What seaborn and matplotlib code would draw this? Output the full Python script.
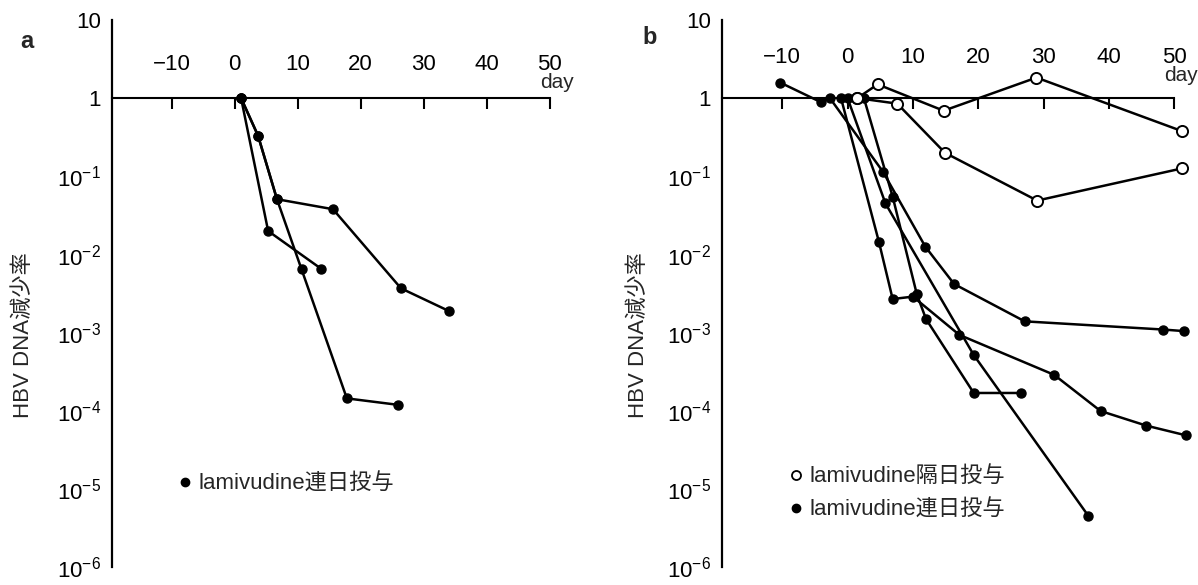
import matplotlib
matplotlib.use("Agg")
import matplotlib.pyplot as plt
from matplotlib.lines import Line2D
from matplotlib.ticker import NullLocator
import pandas as pd
import seaborn as sns

sns.set_theme(style="white")
plt.rcParams["font.family"] = ["Liberation Sans", "Noto Sans CJK JP", "DejaVu Sans"]
plt.rcParams["mathtext.default"] = "regular"

# --- values (day, HBV DNA ratio) ---
# panel a: daily lamivudine
a1_days = [1.0, 3.7, 6.7, 15.6, 26.4, 34.0]
a1_vals = [1.0, 0.33, 0.051, 0.038, 0.0037, 0.0019]
a2_days = [1.0, 5.3, 13.7]
a2_vals = [1.0, 0.020, 0.0066]
a3_days = [1.0, 3.7, 6.7, 10.6, 17.8, 25.9]
a3_vals = [1.0, 0.33, 0.051, 0.0065, 1.45e-4, 1.2e-4]

# panel b: every other day (open)
bo1_days = [1.5, 4.6, 14.7, 28.9, 51.1]
bo1_vals = [1.0, 1.5, 0.69, 1.83, 0.38]
bo2_days = [1.5, 7.6, 14.9, 29.0, 51.1]
bo2_vals = [1.0, 0.85, 0.20, 0.049, 0.126]

# panel b: daily (filled)
bf1_days = [-10.3, -4.1, -2.7, 5.4, 11.9, 16.3, 27.1, 48.3, 51.5]
bf1_vals = [1.58, 0.89, 1.0, 0.115, 0.0126, 0.0042, 0.0014, 0.0011, 0.00105]
bf2_days = [-1.0, 4.8, 6.9, 10.0, 17.1, 31.6, 38.7, 45.7, 51.7]
bf2_vals = [1.0, 0.0145, 0.0027, 0.0029, 9.4e-4, 2.9e-4, 1.0e-4, 6.5e-5, 4.9e-5]
bf3_days = [0.0, 5.8, 19.3, 36.8]
bf3_vals = [1.0, 0.045, 5.2e-4, 4.6e-6]
bf4_days = [2.5, 6.9, 10.6, 12.0, 19.3, 26.5]
bf4_vals = [1.0, 0.055, 0.0031, 0.0015, 1.7e-4, 1.7e-4]

x_ticks = [-10, 0, 10, 20, 30, 40, 50]
x_labels = ["\u221210", "0", "10", "20", "30", "40", "50"]
y_ticks = [1e-6, 1e-5, 1e-4, 1e-3, 1e-2, 1e-1, 1, 10]
y_labels = ["$10^{-6}$", "$10^{-5}$", "$10^{-4}$", "$10^{-3}$", "$10^{-2}$",
            "$10^{-1}$", "1", "10"]

daily_label = "lamivudine連日投与"
alt_label = "lamivudine隔日投与"
ylabel = "HBV DNA減少率"


def to_frame(series):
    rows = []
    for pid, (days, vals) in enumerate(series):
        for d, v in zip(days, vals):
            rows.append({"patient": pid, "day": d, "ratio": v})
    return pd.DataFrame(rows)


def draw(ax, df, open_marker=False):
    kw = dict(color="black", lw=1.8, marker="o", markeredgecolor="black",
              clip_on=False)
    if open_marker:
        kw.update(markersize=8, markerfacecolor="white", markeredgewidth=1.4,
                  zorder=4)
    else:
        kw.update(markersize=6.5, markerfacecolor="black", markeredgewidth=1,
                  zorder=3)
    sns.lineplot(data=df, x="day", y="ratio", units="patient", estimator=None,
                 sort=False, legend=False, ax=ax, **kw)


def style_axes(ax, xmin, label_pad, day_offset, ylabel_x):
    ax.set_yscale("log")
    ax.set_xlim(xmin, 53)
    ax.set_ylim(1e-6, 10)
    ax.spines["right"].set_visible(False)
    ax.spines["bottom"].set_visible(False)
    ax.spines["left"].set_linewidth(1.6)
    ax.spines["left"].set_color("black")
    ax.spines["top"].set_position(("data", 1.0))
    ax.spines["top"].set_bounds(xmin, 50)
    ax.spines["top"].set_linewidth(1.5)
    ax.spines["top"].set_color("black")
    ax.xaxis.set_ticks_position("top")
    ax.set_xticks(x_ticks, labels=x_labels)
    ax.set_yticks(y_ticks, labels=y_labels)
    ax.yaxis.set_minor_locator(NullLocator())
    ax.tick_params(axis="x", direction="in", length=8, width=1.5,
                   pad=label_pad, labelsize=16, colors="black")
    ax.tick_params(axis="y", direction="in", length=7, width=1.5, pad=8,
                   labelsize=16, colors="black")
    ax.set_xlabel("")
    ax.set_ylabel(ylabel, fontsize=16)
    ax.yaxis.set_label_coords(ylabel_x, 0.424)
    ax.annotate("day", xy=(50, 1.0), xytext=(5, day_offset),
                textcoords="offset points", ha="center", va="center",
                fontsize=15)
    ax.set_facecolor("white")


fig = plt.figure(figsize=(11.98, 5.85), dpi=100)
ax_a = fig.add_axes([0.0935, 0.03, 0.381, 0.936])
ax_b = fig.add_axes([0.6027, 0.03, 0.394, 0.936])

draw(ax_a, to_frame([(a1_days, a1_vals), (a2_days, a2_vals), (a3_days, a3_vals)]))
style_axes(ax_a, -19.5, 16.5, 11, -0.17)

draw(ax_b, to_frame([(bf1_days, bf1_vals), (bf2_days, bf2_vals),
                     (bf3_days, bf3_vals), (bf4_days, bf4_vals)]))
draw(ax_b, to_frame([(bo1_days, bo1_vals), (bo2_days, bo2_vals)]), open_marker=True)
style_axes(ax_b, -19.2, 21.5, 16, -0.155)

h_closed = Line2D([], [], ls="", marker="o", color="black", markersize=6)
h_open = Line2D([], [], ls="", marker="o", markerfacecolor="white",
                markeredgecolor="black", markersize=6.5, markeredgewidth=1.3)

leg_kw = dict(loc="center left", frameon=False, handlelength=0.6,
              handletextpad=0.3, borderpad=0, borderaxespad=0, fontsize=16)
ax_a.legend([h_closed], [daily_label], bbox_to_anchor=(0.145, 0.152), **leg_kw)
ax_b.legend([h_open, h_closed], [alt_label, daily_label],
            bbox_to_anchor=(0.1426, 0.135), labelspacing=0.55, **leg_kw)

fig.text(0.017, 1 - 42 / 585, "a", fontsize=17, fontweight="bold", va="center")
fig.text(0.536, 1 - 38 / 585, "b", fontsize=17, fontweight="bold", va="center")

fig.savefig("out.png", dpi=100, facecolor="white")
